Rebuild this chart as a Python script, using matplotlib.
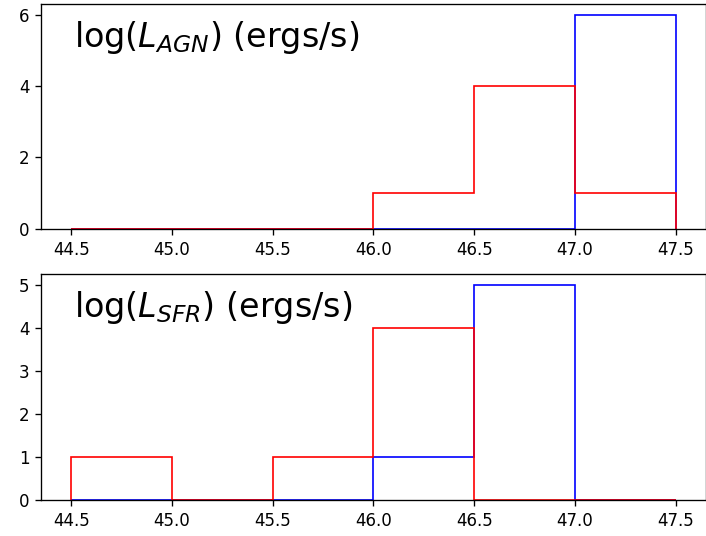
import matplotlib
matplotlib.use("Agg")
import matplotlib.pyplot as plt
import numpy as np

bin_edges = [44.5, 45.0, 45.5, 46.0, 46.5, 47.0, 47.5]
agn_blue = [0, 0, 0, 0, 0, 6]
agn_red = [0, 0, 0, 1, 4, 1]
sfr_blue = [0, 0, 0, 1, 5, 0]
sfr_red = [1, 0, 1, 4, 0, 0]
titles = [r"log($L_{AGN}$) (ergs/s)", r"log($L_{SFR}$) (ergs/s)"]
xticks = [44.5, 45.0, 45.5, 46.0, 46.5, 47.0, 47.5]

DPI = 120
fig = plt.figure(figsize=(706 / DPI, 536 / DPI), dpi=DPI)
ax1 = fig.add_axes([0.058, 0.573, 0.942, 0.4195])
ax2 = fig.add_axes([0.058, 0.067, 0.942, 0.422])

edges = np.array(bin_edges)
centers = (edges[:-1] + edges[1:]) / 2
for ax, blue, red, title in [(ax1, agn_blue, agn_red, titles[0]),
                             (ax2, sfr_blue, sfr_red, titles[1])]:
    ax.hist(centers, bins=edges, weights=blue, histtype='step', color='blue')
    ax.hist(centers, bins=edges, weights=red, histtype='step', color='red')
    ax.set_xticks(xticks)
    ax.text(0.05, 0.85, title, transform=ax.transAxes, fontsize=20,
            ha='left', va='center')

fig.savefig("out.png", dpi=DPI)
